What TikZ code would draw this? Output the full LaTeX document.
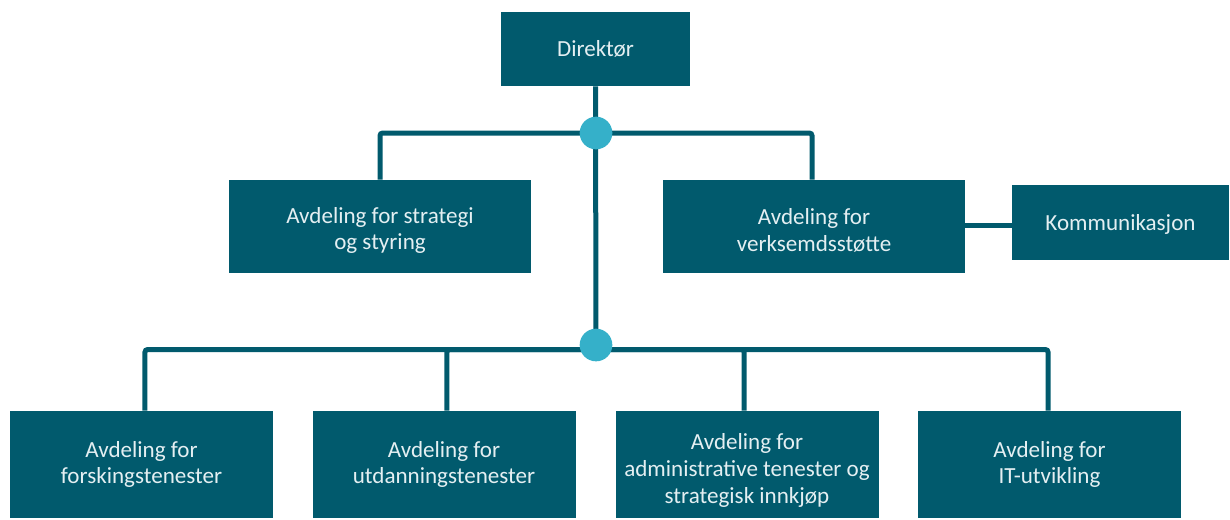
\documentclass[tikz,border=0pt]{standalone}
\usepackage{fontspec}
\setmainfont{Carlito}
\definecolor{boxteal}{HTML}{015A6D}
\definecolor{dotblue}{HTML}{35B0C9}
\definecolor{boxtext}{HTML}{E4EFF2}
\begin{document}
\begin{tikzpicture}[x=0.75pt,y=-0.75pt,
  box/.style={fill=boxteal, draw=none, inner sep=0pt},
  lab/.style={text=boxtext, align=center, inner sep=0pt,
    font=\fontsize{17.3}{20}\selectfont},
  txt/.style 2 args={label={[lab, yshift=#1]center:{#2}}},
  topbox/.style={box, minimum width=141.75pt, minimum height=55.5pt},
  midbox/.style={box, minimum width=226.5pt, minimum height=69.75pt},
  sidebox/.style={box, minimum width=162.75pt, minimum height=56.25pt},
  lowbox/.style={box, minimum width=197.25pt, minimum height=80.25pt},
  conn/.style={draw=boxteal, line width=3.75pt, rounded corners=2pt},
  dot/.style={circle, fill=dotblue, draw=none, minimum size=24.5pt, inner sep=0pt}]
\useasboundingbox (0,0) rectangle (1230,519);
\node[topbox, txt={0pt}{Direktør}] (dir) at (595.5,49) {};
\node[midbox, txt={-3pt}{Avdeling for strategi\\og styring}] (strat) at (380,226.5) {};
\node[midbox, txt={-3pt}{Avdeling for\\verksemdsstøtte}] (verk) at (814,226.5) {};
\node[sidebox, txt={-1.5pt}{Kommunikasjon}] (komm) at (1120.5,222.5) {};
\node[lowbox, txt={0pt}{Avdeling for\\forskingstenester}] (b1) at (141.5,464.5) {};
\node[lowbox, txt={0pt}{Avdeling for\\utdanningstenester}] (b2) at (444,464.5) {};
\node[lowbox, txt={-4.5pt}{Avdeling for\\administrative tenester og\\strategisk innkjøp}] (b3) at (747,464.5) {};
\node[lowbox, txt={0pt}{Avdeling for\\IT-utvikling}] (b4) at (1049.5,464.5) {};
\coordinate (c1) at (596,133);
\coordinate (c2) at (596,345);
\coordinate (bar2) at (596,349.5);
\draw[conn] (dir.south) -- (bar2);
\draw[conn] (c1) -| (strat.north);
\draw[conn] (c1) -| ([xshift=-1.5pt]verk.north);
\draw[conn] ([yshift=-2pt]komm.west) -- ([yshift=-2pt]komm.west -| verk.east);
\draw[conn] (bar2) -| ([xshift=2.6pt]b1.north);
\draw[conn] (bar2) -| ([xshift=2.2pt]b2.north);
\draw[conn] (bar2) -| ([xshift=-2.2pt]b3.north);
\draw[conn] (bar2) -| ([xshift=-1.1pt]b4.north);
\node[dot] (d1) at (c1) {};
\node[dot] (d2) at (c2) {};
\end{tikzpicture}
\end{document}
